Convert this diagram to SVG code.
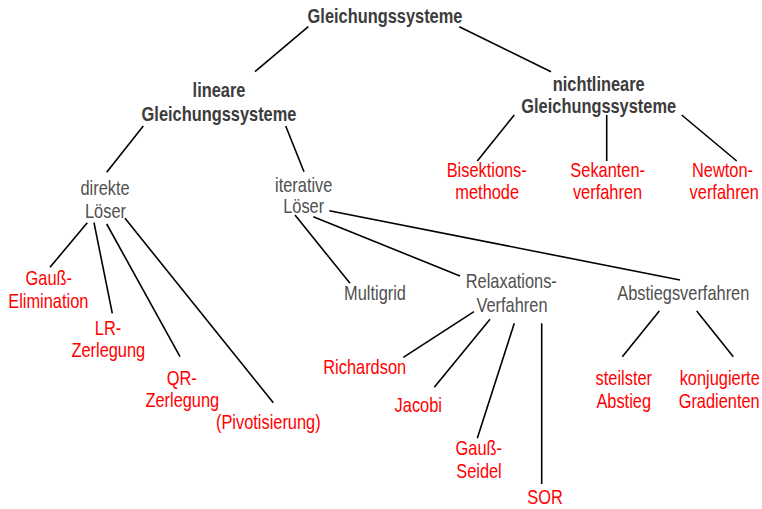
<svg xmlns="http://www.w3.org/2000/svg" width="762" height="509" viewBox="0 0 762 509">
<style>
text{font-family:"Liberation Sans",Arial,sans-serif;font-size:20px;text-anchor:middle}
.b{font-weight:bold;fill:#3c3c3c}
.g{fill:#505050}
.r{fill:#ff0000}
#connectors line{stroke:#000;stroke-width:1.6;stroke-linecap:butt}
</style>
<rect width="762" height="509" fill="#fff"/>
<g id="connectors">
<line x1="308.3" y1="26.7" x2="255" y2="71.7"/>
<line x1="459.3" y1="26.7" x2="551" y2="71.7"/>
<line x1="143.3" y1="126" x2="106.7" y2="172.3"/>
<line x1="285.7" y1="126" x2="304" y2="171.7"/>
<line x1="514.3" y1="115" x2="477.3" y2="161"/>
<line x1="606.7" y1="115" x2="606.7" y2="161"/>
<line x1="681.7" y1="115" x2="736.7" y2="161"/>
<line x1="87.3" y1="222.7" x2="50" y2="267.3"/>
<line x1="94" y1="222.7" x2="112.3" y2="313.3"/>
<line x1="106.7" y1="224" x2="180" y2="356.7"/>
<line x1="125" y1="218.3" x2="273.3" y2="402.7"/>
<line x1="295" y1="215" x2="350" y2="283.3"/>
<line x1="313.3" y1="216.7" x2="460" y2="276"/>
<line x1="329.3" y1="210.7" x2="680" y2="280"/>
<line x1="474" y1="311.7" x2="403.3" y2="357.3"/>
<line x1="490" y1="319.3" x2="434.3" y2="387.3"/>
<line x1="514.3" y1="323.3" x2="477.3" y2="438.3"/>
<line x1="541.7" y1="323.3" x2="541.7" y2="484"/>
<line x1="659.3" y1="311" x2="622.3" y2="356.7"/>
<line x1="696.7" y1="311" x2="733.3" y2="356.7"/>
</g>
<g id="n-gls"><text class="b" transform="translate(385 22.5) scale(.82 1)">Gleichungssysteme</text></g>
<g id="n-lin"><text class="b" transform="translate(219 97.3) scale(.82 1)">lineare</text><text class="b" transform="translate(219 120.7) scale(.82 1)">Gleichungssysteme</text></g>
<g id="n-nlin"><text class="b" transform="translate(598.7 90.7) scale(.82 1)">nichtlineare</text><text class="b" transform="translate(598.7 113.3) scale(.82 1)">Gleichungssysteme</text></g>
<g id="n-bis"><text class="r" transform="translate(486.7 176.7) scale(.82 1)">Bisektions-</text><text class="r" transform="translate(487.2 199.3) scale(.82 1)">methode</text></g>
<g id="n-sek"><text class="r" transform="translate(607.7 176.7) scale(.82 1)">Sekanten-</text><text class="r" transform="translate(607.5 199.3) scale(.82 1)">verfahren</text></g>
<g id="n-new"><text class="r" transform="translate(722.5 176.7) scale(.82 1)">Newton-</text><text class="r" transform="translate(724.2 199.3) scale(.82 1)">verfahren</text></g>
<g id="n-dir"><text class="g" transform="translate(105 195) scale(.82 1)">direkte</text><text class="g" transform="translate(105.5 217.7) scale(.82 1)">Löser</text></g>
<g id="n-it"><text class="g" transform="translate(303.7 191.7) scale(.82 1)">iterative</text><text class="g" transform="translate(303.7 213.3) scale(.82 1)">Löser</text></g>
<g id="n-gauss"><text class="r" transform="translate(48.8 285) scale(.82 1)">Gauß-</text><text class="r" transform="translate(48.3 307.7) scale(.82 1)">Elimination</text></g>
<g id="n-lr"><text class="r" transform="translate(108 335) scale(.82 1)">LR-</text><text class="r" transform="translate(108.3 357.3) scale(.82 1)">Zerlegung</text></g>
<g id="n-qr"><text class="r" transform="translate(181.7 385) scale(.82 1)">QR-</text><text class="r" transform="translate(182.3 407.3) scale(.82 1)">Zerlegung</text></g>
<g id="n-piv"><text class="r" transform="translate(268.3 429.3) scale(.82 1)">(Pivotisierung)</text></g>
<g id="n-mg"><text class="g" transform="translate(375 300) scale(.82 1)">Multigrid</text></g>
<g id="n-rel"><text class="g" transform="translate(511.3 288.3) scale(.82 1)">Relaxations-</text><text class="g" transform="translate(512 311.7) scale(.82 1)">Verfahren</text></g>
<g id="n-abs"><text class="g" transform="translate(683.3 300) scale(.82 1)">Abstiegsverfahren</text></g>
<g id="n-rich"><text class="r" transform="translate(364.7 374) scale(.82 1)">Richardson</text></g>
<g id="n-jac"><text class="r" transform="translate(418.3 412.3) scale(.82 1)">Jacobi</text></g>
<g id="n-gs"><text class="r" transform="translate(478.8 455) scale(.82 1)">Gauß-</text><text class="r" transform="translate(479 477.7) scale(.82 1)">Seidel</text></g>
<g id="n-sor"><text class="r" transform="translate(545 504) scale(.82 1)">SOR</text></g>
<g id="n-st"><text class="r" transform="translate(623.8 385) scale(.82 1)">steilster</text><text class="r" transform="translate(623.7 407.7) scale(.82 1)">Abstieg</text></g>
<g id="n-kg"><text class="r" transform="translate(719.7 385) scale(.82 1)">konjugierte</text><text class="r" transform="translate(719.2 407.7) scale(.82 1)">Gradienten</text></g>
</svg>
